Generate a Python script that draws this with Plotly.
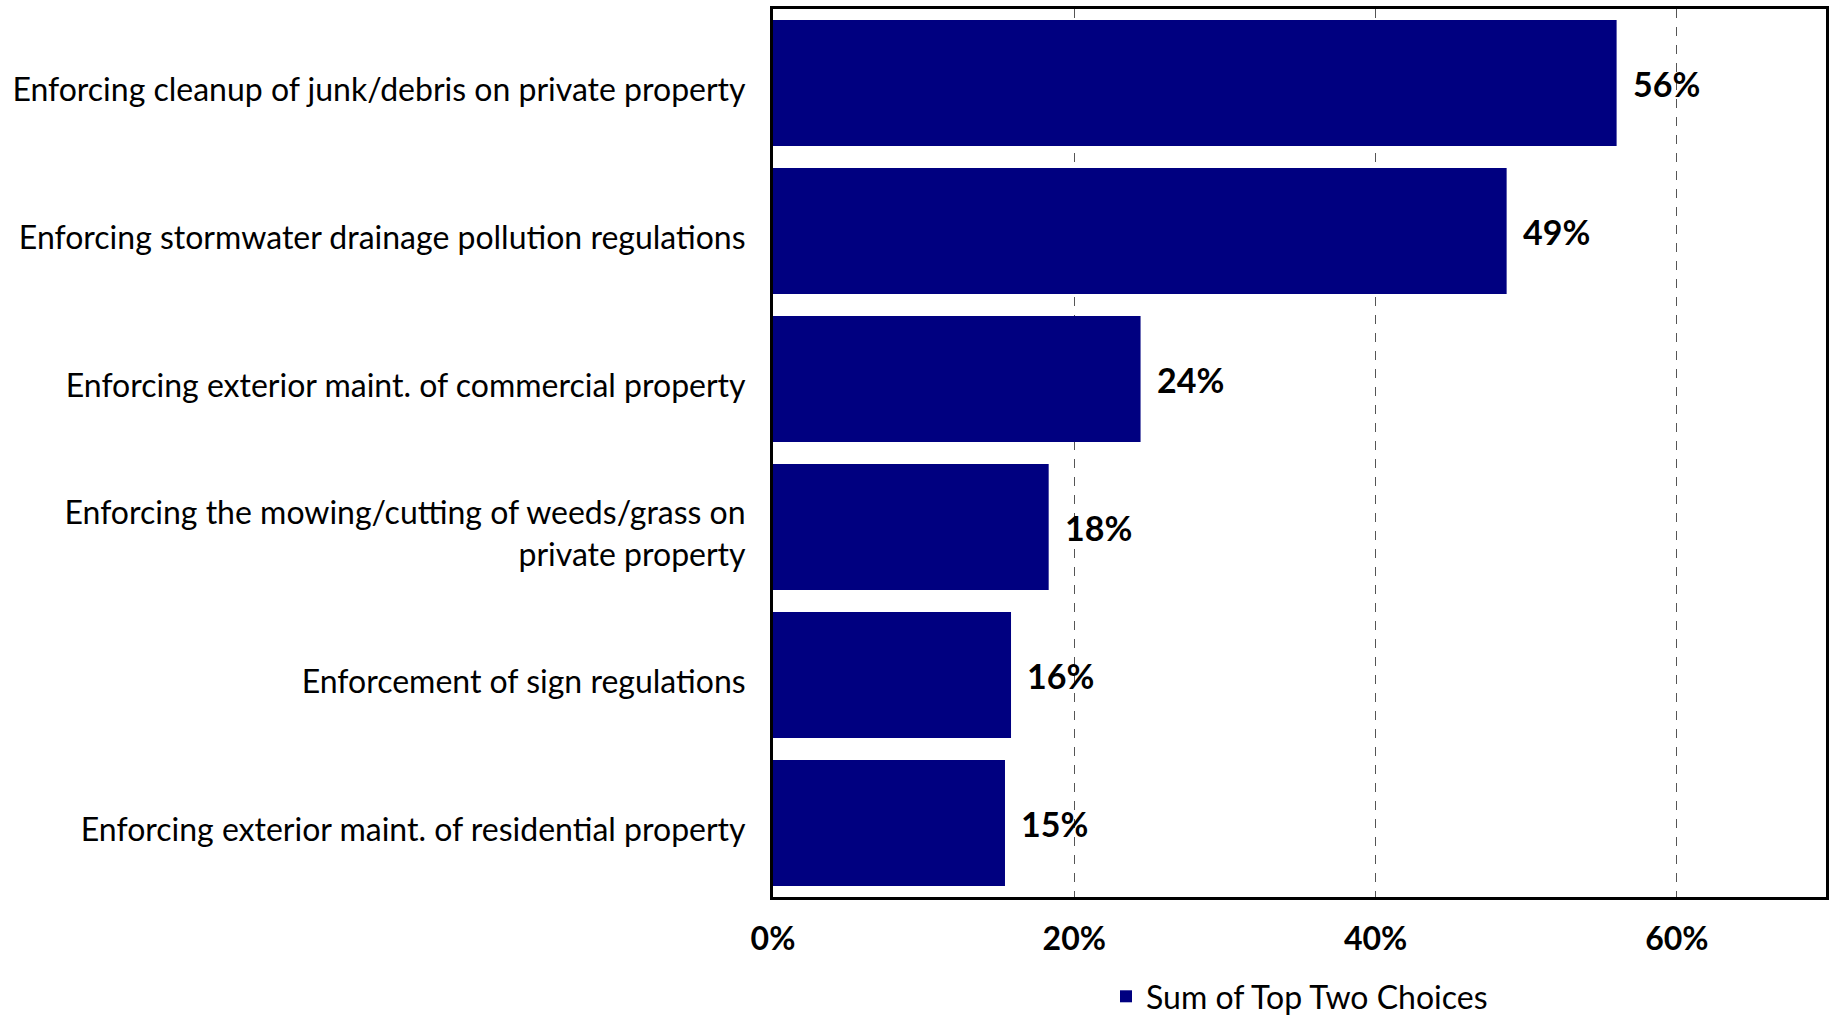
import plotly.graph_objects as go

categories = [
    "Enforcing cleanup of junk/debris on private property",
    "Enforcing stormwater drainage pollution regulations",
    "Enforcing exterior maint. of commercial property",
    "Enforcing the mowing/cutting of weeds/grass on<br>private property",
    "Enforcement of sign regulations",
    "Enforcing exterior maint. of residential property",
]
values = [56.0, 48.7, 24.4, 18.3, 15.8, 15.4]
labels = ["56%", "49%", "24%", "18%", "16%", "15%"]
series_name = "Sum of Top Two Choices"
tick_vals = [0, 20, 40, 60]
tick_text = ["0%", "20%", "40%", "60%"]

FONT = "Lato"
W, H = 1832, 1021
ml, mr, mt, mb = 773, 6, 9, 124

fig = go.Figure()
fig.add_trace(go.Bar(
    y=categories, x=values, orientation="h", name=series_name,
    marker=dict(color="#000080", line=dict(width=0)),
    showlegend=True,
))

for c, v, t in zip(categories, values, labels):
    fig.add_annotation(x=v, y=c, text="<b>%s</b>" % t, showarrow=False,
                       xanchor="left", xshift=14, yshift=0,
                       font=dict(family=FONT, size=34, color="black"))

fig.update_layout(
    width=W, height=H,
    margin=dict(l=ml, r=mr, t=mt, b=mb, pad=0),
    paper_bgcolor="white", plot_bgcolor="white",
    font=dict(family=FONT, size=32, color="black"),
    bargap=0.148,
    showlegend=True,
    legend=dict(orientation="h", x=0.5, xanchor="center",
                yref="container", y=0.024, yanchor="middle",
                font=dict(family=FONT, size=32, color="black"),
                bgcolor="rgba(0,0,0,0)", borderwidth=0),
    xaxis=dict(range=[0, 69.9], tickvals=tick_vals, ticktext=["<b>%s</b>" % t for t in tick_text],
               showgrid=True, gridcolor="#555555", griddash="dash", gridwidth=1,
               showline=True, linecolor="black", linewidth=3, mirror=True,
               zeroline=False, ticks="", ticklabelstandoff=12, automargin=False,
               tickfont=dict(family=FONT, size=32, color="black")),
    yaxis=dict(autorange="reversed", showgrid=False,
               showline=True, linecolor="black", linewidth=3, mirror=True,
               ticks="", ticklabelstandoff=18, ticklabelshift=-7, automargin=False,
               tickfont=dict(family=FONT, size=32, color="black")),
)

fig.write_html("out.html")
